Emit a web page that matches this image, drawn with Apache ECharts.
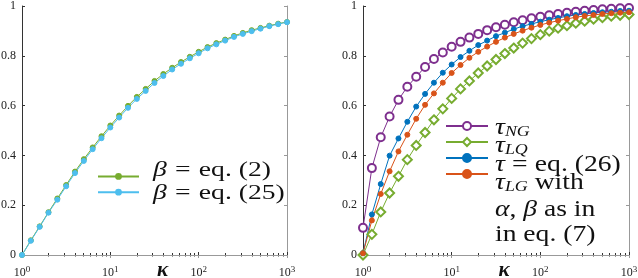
<!DOCTYPE html>
<html>
<head>
<meta charset="utf-8">
<script src="https://cdn.jsdelivr.net/npm/echarts@6/dist/echarts.min.js"></script>
<style>
  html, body { margin: 0; padding: 0; background: #fff; }
  #chart { width: 638px; height: 278px; }
</style>
</head>
<body>
<div id="chart"></div>
<script>
// kappa values, 10 per decade from 10^0 to 10^3
const kappa = [1, 1.259, 1.585, 1.995, 2.512, 3.162, 3.981, 5.012, 6.310, 7.943,
  10, 12.59, 15.85, 19.95, 25.12, 31.62, 39.81, 50.12, 63.10, 79.43,
  100, 125.9, 158.5, 199.5, 251.2, 316.2, 398.1, 501.2, 631.0, 794.3, 1000];

// left panel
const betaEq2 = [0, 0.059, 0.115, 0.172, 0.227, 0.281, 0.335, 0.385, 0.432, 0.477,
  0.520, 0.560, 0.599, 0.635, 0.667, 0.699, 0.727, 0.752, 0.775, 0.796,
  0.816, 0.835, 0.851, 0.865, 0.880, 0.892, 0.903, 0.912, 0.921, 0.929, 0.936];
const betaEq25 = [0, 0.057, 0.113, 0.170, 0.222, 0.276, 0.329, 0.378, 0.425, 0.469,
  0.512, 0.552, 0.591, 0.627, 0.659, 0.691, 0.719, 0.745, 0.768, 0.790,
  0.810, 0.830, 0.846, 0.861, 0.876, 0.888, 0.899, 0.909, 0.919, 0.927, 0.935];

// right panel
const tauNG = [0.109, 0.349, 0.473, 0.556, 0.623, 0.676, 0.716, 0.755, 0.787, 0.813,
  0.836, 0.856, 0.873, 0.888, 0.903, 0.915, 0.925, 0.935, 0.943, 0.951,
  0.957, 0.963, 0.968, 0.973, 0.977, 0.981, 0.984, 0.987, 0.989, 0.991, 0.992];
const tauLQ = [0, 0.083, 0.173, 0.249, 0.316, 0.383, 0.440, 0.492, 0.543, 0.587,
  0.629, 0.667, 0.699, 0.731, 0.759, 0.785, 0.809, 0.831, 0.851, 0.869,
  0.885, 0.899, 0.911, 0.921, 0.931, 0.939, 0.947, 0.953, 0.959, 0.963, 0.966];
const tauEq26 = [0.007, 0.163, 0.285, 0.399, 0.468, 0.535, 0.596, 0.647, 0.692, 0.732,
  0.765, 0.795, 0.820, 0.843, 0.861, 0.879, 0.893, 0.907, 0.919, 0.928,
  0.937, 0.945, 0.952, 0.959, 0.964, 0.968, 0.972, 0.975, 0.977, 0.980, 0.981];
const tauLG = [0.007, 0.139, 0.245, 0.336, 0.416, 0.483, 0.547, 0.603, 0.649, 0.692,
  0.731, 0.763, 0.792, 0.816, 0.837, 0.856, 0.873, 0.888, 0.901, 0.913,
  0.924, 0.933, 0.941, 0.948, 0.955, 0.960, 0.964, 0.968, 0.971, 0.973, 0.975];

// legend labels (rich text)
const leftLabels = ['{i|β}{op|=}eq. (2)', '{i|β}{op|=}eq. (25)'];
const rightLabels = ['{i|τ}{sub|NG}', '{i|τ}{sub|LQ}', '{i|τ}{op|=}eq. (26)', '{i|τ}{sub|LG} with',
  '{i|α}, {i|β} as in', 'in eq. (7)'];

const chart = echarts.init(document.getElementById('chart'));
const serif = "'Liberation Serif', 'DejaVu Serif', serif";

function pairs(ys) {
  return kappa.map((k, i) => [k, ys[i]]);
}

function xBottom(gridIndex) {
  return {
    type: 'log', logBase: 10, min: 1, max: 1000, gridIndex: gridIndex,
    name: 'κ', nameLocation: 'middle', nameGap: 5, nameMoveOverlap: false,
    nameTextStyle: { fontFamily: serif, fontStyle: 'italic', fontWeight: 'bold', fontSize: 21, color: '#111', padding: [0, 0, 0, 16] },
    axisLine: { lineStyle: { color: '#333', width: 1 } },
    axisTick: { inside: true, length: 3, lineStyle: { color: '#333' } },
    minorTick: { show: true, splitNumber: 9, length: 2, lineStyle: { color: '#333' } },
    splitLine: { show: false },
    axisLabel: {
      margin: 10, color: '#222', fontFamily: serif, fontSize: 12,
      formatter: v => '10{sup|' + Math.round(Math.log10(v)) + '}',
      rich: { sup: { fontSize: 9, fontFamily: serif, verticalAlign: 'top', padding: [0, 0, 6, 0] } }
    }
  };
}
function xTop(gridIndex) {
  return {
    type: 'log', logBase: 10, min: 1, max: 1000, gridIndex: gridIndex, position: 'top',
    axisLine: { lineStyle: { color: '#999' } },
    axisTick: { inside: true, length: 3, lineStyle: { color: '#999' } },
    minorTick: { show: true, splitNumber: 9, length: 2, lineStyle: { color: '#999' } },
    axisLabel: { show: false }, splitLine: { show: false }
  };
}
function yLeft(gridIndex) {
  return {
    type: 'value', min: 0, max: 1, interval: 0.2, gridIndex: gridIndex,
    axisLine: { show: true, lineStyle: { color: '#333' } },
    axisTick: { show: true, inside: true, length: 3, lineStyle: { color: '#333' } },
    splitLine: { show: false },
    axisLabel: { margin: 6, color: '#222', fontFamily: serif, fontSize: 12 }
  };
}
function yRight(gridIndex) {
  return {
    type: 'value', min: 0, max: 1, interval: 0.2, gridIndex: gridIndex, position: 'right',
    axisLine: { show: true, lineStyle: { color: '#999' } },
    axisTick: { show: true, inside: true, length: 3, lineStyle: { color: '#999' } },
    splitLine: { show: false }, axisLabel: { show: false }
  };
}

function lineSeries(name, data, xi, yi, color, symbol, size) {
  return {
    name: name, type: 'line', xAxisIndex: xi, yAxisIndex: yi,
    data: pairs(data), symbol: symbol, symbolSize: size,
    lineStyle: { color: color, width: 1 },
    itemStyle: { color: color, borderColor: color, borderWidth: 1 },
    animation: false
  };
}

function richStyle(size) {
  return {
    i: { fontFamily: serif, fontStyle: 'italic', fontSize: size },
    op: { fontFamily: serif, fontSize: size, padding: [0, 6, 0, 6] },
    sub: { fontFamily: serif, fontStyle: 'italic', fontSize: size * 0.65, lineHeight: 4, verticalAlign: 'bottom' }
  };
}

// legend text lines, placed next to the legend icons
function textLine(str, x, y, size, sx) {
  return {
    type: 'text', x: x, y: y, scaleX: sx,
    style: {
      text: str, fontFamily: serif, fontSize: size, fill: '#111',
      verticalAlign: 'middle', align: 'left', rich: richStyle(size)
    }
  };
}

const graphics = [
  textLine(leftLabels[0], 153, 171, 20, 1.38),
  textLine(leftLabels[1], 153, 194, 20, 1.38),
  textLine(rightLabels[0], 495, 128, 23, 1.2),
  textLine(rightLabels[1], 495, 146, 23, 1.2),
  textLine(rightLabels[2], 495, 165, 23, 1.2),
  textLine(rightLabels[3], 495, 183, 23, 1.2),
  textLine(rightLabels[4], 495, 210, 23, 1.2),
  textLine(rightLabels[5], 495, 235, 23, 1.2)
];

const option = {
  backgroundColor: '#fff',
  animation: false,
  textStyle: { fontFamily: serif },
  grid: [
    { left: 22, top: 6, width: 265, height: 249, outerBoundsMode: 'none' },
    { left: 363, top: 6, width: 266, height: 249, outerBoundsMode: 'none' }
  ],
  xAxis: [xBottom(0), xTop(0), xBottom(1), xTop(1)],
  yAxis: [yLeft(0), yRight(0), yLeft(1), yRight(1)],
  legend: [
    {
      data: ['β = eq. (2)', 'β = eq. (25)'],
      orient: 'vertical', left: 92, top: 168, itemWidth: 41, itemHeight: 6, itemGap: 9,
      formatter: () => '', textStyle: { fontSize: 1, lineHeight: 1 }
    },
    {
      data: ['τNG', 'τLQ', 'τ = eq. (26)', 'τLG'],
      orient: 'vertical', left: 440, top: 116, itemWidth: 42, itemHeight: 10, itemGap: 6,
      formatter: () => '', textStyle: { fontSize: 1, lineHeight: 1 }
    }
  ],
  graphic: graphics,
  series: [
    lineSeries('β = eq. (2)', betaEq2, 0, 0, '#77AC30', 'circle', 5),
    lineSeries('β = eq. (25)', betaEq25, 0, 0, '#4DBEEE', 'circle', 5),
    lineSeries('τNG', tauNG, 2, 2, '#7E2F8E', 'emptyCircle', 8),
    lineSeries('τLQ', tauLQ, 2, 2, '#77AC30', 'emptyDiamond', 9),
    lineSeries('τ = eq. (26)', tauEq26, 2, 2, '#0072BD', 'circle', 5),
    lineSeries('τLG', tauLG, 2, 2, '#D95319', 'circle', 5)
  ]
};

chart.setOption(option);
</script>
</body>
</html>
